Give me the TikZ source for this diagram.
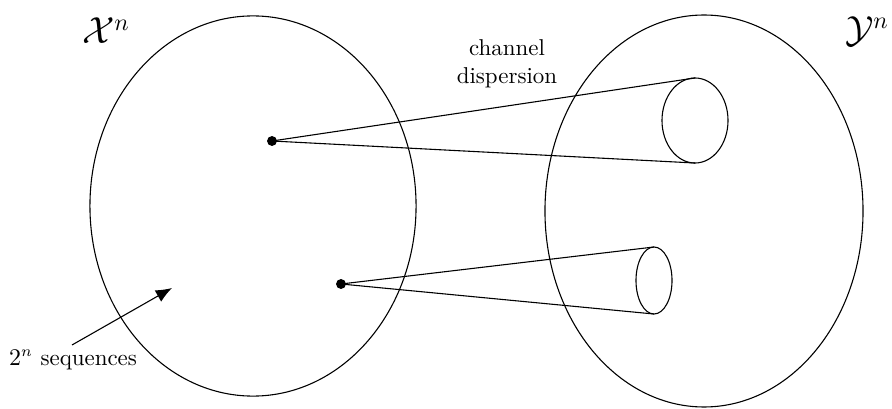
\documentclass[tikz,border=0pt]{standalone}
\usepackage{amsmath,amssymb}
\usepackage{tikz}
\usetikzlibrary{arrows.meta,shapes.geometric}

\begin{document}
\begin{tikzpicture}[
  x=0.0161cm,y=-0.0161cm,
  line width=0.5pt,
  alphabet/.style={ellipse,draw,inner sep=0pt,outer sep=0pt},
  mouth/.style={ellipse,draw,inner sep=0pt,outer sep=0pt},
  codeword/.style={circle,fill,inner sep=0pt,minimum size=1.6mm},
  spread/.style={draw,line width=0.5pt},
  pointer/.style={-{Latex[length=2.6mm,width=2.1mm]},line width=0.5pt},
  set name/.style={font=\fontsize{16}{19}\selectfont},
  remark/.style={font=\fontsize{10.5}{12.6}\selectfont}
]
\useasboundingbox (0,0) rectangle (892,409);

% input and output spaces.
\node[alphabet,minimum width=5.25cm,minimum height=6.12cm] (xspace) at (253,206) {};
\node[alphabet,minimum width=5.12cm,minimum height=6.31cm] (yspace) at (704,211) {};
\node[set name] (xlabel) at (106,31) {$\mathcal{X}^n$};
\node[set name] (ylabel) at (867,31) {$\mathcal{Y}^n$};

% two codewords and their images.
\node[codeword] (cw-a) at (272,141) {};
\node[codeword] (cw-b) at (341,284) {};
\node[mouth,minimum width=1.063cm,minimum height=1.369cm] (img-a) at (695,120.5) {};
\node[mouth,minimum width=0.58cm,minimum height=1.079cm] (img-b) at (654,280.5) {};
\draw[spread] (cw-a.center) -- (img-a.north);
\draw[spread] (cw-a.center) -- (img-a.south);
\draw[spread] (cw-b.center) -- (img-b.north);
\draw[spread] (cw-b.center) -- (img-b.south);
\node[remark,align=center] (disp) at (507,64) {channel\\dispersion};

% annotation.
\node[remark] (seq) at (73,360) {$2^n$ sequences};
\coordinate (seq-tip) at (172,288);
\coordinate (seq-tail) at (72,345);
\draw[pointer] (seq-tail) -- (seq-tip);

\end{tikzpicture}
\end{document}
